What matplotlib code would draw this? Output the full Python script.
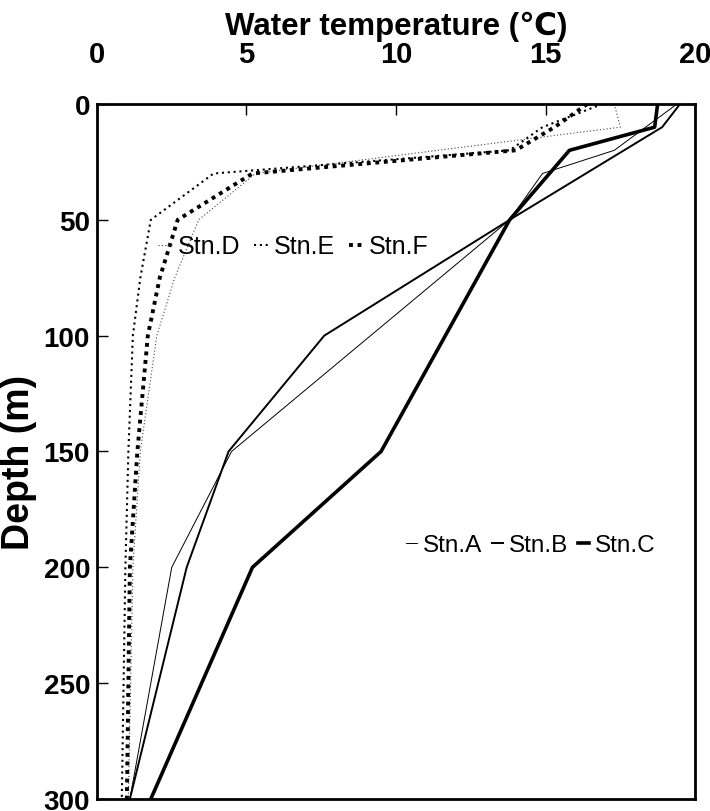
import matplotlib
matplotlib.use("Agg")
import matplotlib.pyplot as plt

# Station data (depth in m, temperature in deg C)
depth_A = [0, 20, 30, 50, 150, 200, 300]
temp_A = [19.4, 17.3, 14.9, 13.8, 4.5, 2.5, 1.1]
depth_B = [0, 10, 50, 100, 150, 200, 300]
temp_B = [19.5, 18.9, 13.8, 7.6, 4.4, 3.0, 1.1]
depth_C = [0, 10, 20, 50, 150, 200, 300]
temp_C = [18.75, 18.65, 15.8, 13.8, 9.5, 5.2, 1.8]
depth_D = [0, 10, 30, 50, 75, 100, 150, 200, 300]
temp_D = [17.3, 17.5, 5.3, 3.4, 2.6, 2.0, 1.45, 1.2, 1.05]
depth_E = [0, 10, 20, 30, 50, 75, 100, 150, 200, 300]
temp_E = [16.9, 14.9, 13.8, 3.9, 1.8, 1.45, 1.2, 1.05, 0.95, 0.83]
depth_F = [0, 10, 20, 30, 50, 75, 100, 150, 200, 300]
temp_F = [16.4, 15.3, 14.0, 5.2, 2.7, 2.1, 1.7, 1.35, 1.1, 1.0]

x_ticks = [0, 5, 10, 15, 20]
y_ticks = [0, 50, 100, 150, 200, 250, 300]

FAM = ['Liberation Sans', 'DejaVu Sans']
plt.rcParams['font.family'] = FAM

fig = plt.figure(figsize=(7.1, 8.12), dpi=100)
ax = fig.add_axes([0.1366, 0.0148, 0.8423, 0.8559])

lA, = ax.plot(temp_A, depth_A, color='black', lw=0.7, label='Stn.A')
lB, = ax.plot(temp_B, depth_B, color='black', lw=1.4, label='Stn.B')
lC, = ax.plot(temp_C, depth_C, color='black', lw=2.6, label='Stn.C')
lD, = ax.plot(temp_D, depth_D, color='#444444', lw=0.8, ls=(0, (1, 2)), label='Stn.D')
lE, = ax.plot(temp_E, depth_E, color='black', lw=1.5, ls=(0, (1, 1.8)), label='Stn.E')
lF, = ax.plot(temp_F, depth_F, color='black', lw=2.8, ls=(0, (1, 1.2)), label='Stn.F')

ax.set_xlim(0, 20)
ax.set_ylim(300, 0)
ax.xaxis.tick_top()
ax.xaxis.set_label_position('top')
ax.set_xticks(x_ticks)
ax.set_yticks(y_ticks)
ax.tick_params(axis='both', direction='in', width=1, length=8)
ax.tick_params(axis='x', pad=26, labelsize=21)
ax.tick_params(axis='y', pad=5, labelsize=20)
for lab in ax.get_xticklabels() + ax.get_yticklabels():
    lab.set_fontweight('bold')
for sp in ax.spines.values():
    sp.set_linewidth(2)

ax.set_xlabel('Water temperature (℃)', fontsize=22.5, fontweight='bold', labelpad=4)
ax.set_ylabel('Depth (m)', fontsize=27, fontweight='bold')
ax.yaxis.set_label_coords(-0.1, 0.485)

leg1 = ax.legend(handles=[lD, lE, lF], ncol=3, frameon=False, loc='center left',
                 bbox_to_anchor=(0.085, 0.795), fontsize=18, handlelength=0.55,
                 handletextpad=0.25, columnspacing=0.55, borderaxespad=0)
ax.add_artist(leg1)
leg2 = ax.legend(handles=[lA, lB, lC], ncol=3, frameon=False, loc='center left',
                 bbox_to_anchor=(0.5, 0.365), fontsize=17.5, handlelength=0.45,
                 handletextpad=0.25, columnspacing=0.4, borderaxespad=0)

fig.savefig('out.png', dpi=100)
